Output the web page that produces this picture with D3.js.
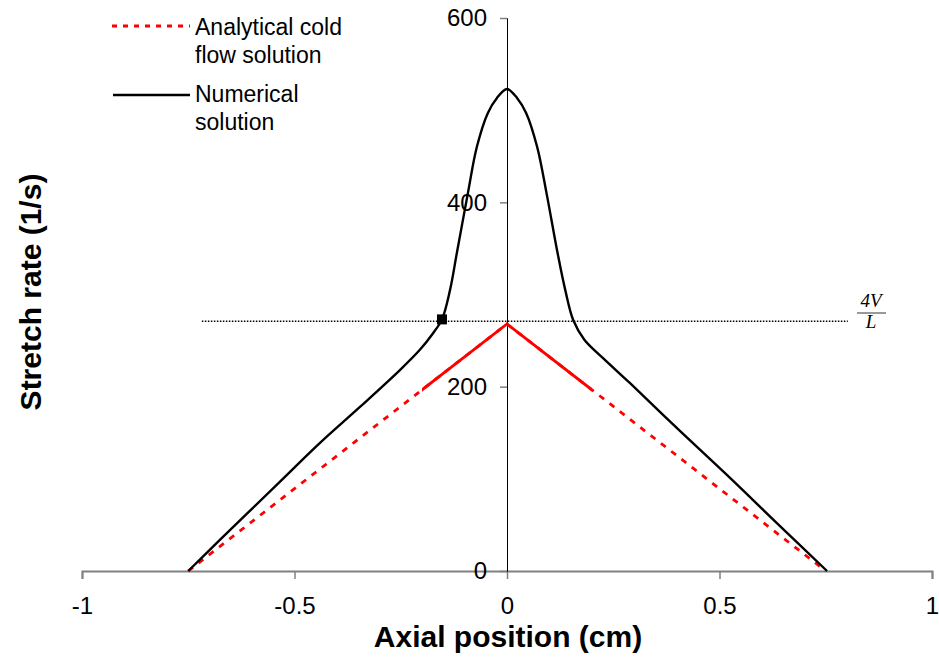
<!DOCTYPE html>
<html>
<head>
<meta charset="utf-8">
<script src="https://cdn.jsdelivr.net/npm/d3@7"></script>
<style>
  body { margin: 0; background: #fff; }
  text { font-family: Arial, "Liberation Sans", sans-serif; }
</style>
</head>
<body>
<div id="chart-area"></div>
<script>
// Numerical solution (black curve)
let numX = [-0.75, -0.675, -0.534, -0.44, -0.346, -0.252, -0.205, -0.174, -0.153, -0.134, -0.118,
  -0.092, -0.071, -0.045, -0.024, 0, 0.024, 0.045, 0.071, 0.093, 0.119, 0.137, 0.156, 0.182,
  0.226, 0.289, 0.4, 0.518, 0.635, 0.753];
let numY = [0, 34, 97, 139, 178, 218, 240, 258, 273, 305, 345,
  410, 460, 497, 513, 523, 513, 497, 460, 410, 345, 305, 272, 251,
  231, 204, 155, 104, 52, 0];

// Analytical cold flow solution (red dashed)
let anaX = [-0.75, 0, 0.75];
let anaY = [0, 268, 0];

// 4V/L reference line and marked point
let refX = [-0.718, 0.802];
let refY = 271;
let markX = -0.153, markY = 273;

let xTicks = [-1, -0.5, 0, 0.5, 1];
let yTicks = [0, 200, 400, 600];

let W = 939, H = 659;
let svg = d3.select('#chart-area').append('svg').attr('width', W).attr('height', H);

let x = d3.scaleLinear().domain([-1, 1]).range([82, 932]);
let y = d3.scaleLinear().domain([0, 600]).range([571, 18]);

// x axis
let xAxis = svg.append('g')
  .attr('transform', `translate(0, ${y(0)})`)
  .call(d3.axisBottom(x).tickValues(xTicks).tickSize(8).tickPadding(18)
    .tickFormat(d => String(d)));
xAxis.select('.domain').attr('stroke', '#808080').attr('stroke-width', 2);
xAxis.selectAll('.tick line').attr('stroke', '#808080').attr('stroke-width', 1.5);
xAxis.selectAll('.tick text').attr('font-size', 24).attr('fill', '#000');

// y axis at x = 0
let yAxis = svg.append('g')
  .attr('transform', `translate(${x(0)}, 0)`)
  .call(d3.axisLeft(y).tickValues(yTicks).tickSize(7).tickPadding(13));
yAxis.select('.domain').attr('stroke', '#000').attr('stroke-width', 1);
yAxis.selectAll('.tick line').attr('stroke', '#808080').attr('stroke-width', 1.5);
yAxis.selectAll('.tick text').attr('font-size', 24).attr('fill', '#000');

// Axis titles
svg.append('text')
  .attr('x', 508).attr('y', 647)
  .attr('text-anchor', 'middle')
  .attr('font-size', 30).attr('font-weight', 'bold')
  .text('Axial position (cm)');
svg.append('text')
  .attr('transform', 'translate(41, 292) rotate(-90)')
  .attr('text-anchor', 'middle')
  .attr('font-size', 30).attr('font-weight', 'bold')
  .text('Stretch rate (1/s)');

// 4V/L dotted line
svg.append('line')
  .attr('x1', x(refX[0])).attr('x2', x(refX[1]))
  .attr('y1', y(refY)).attr('y2', y(refY))
  .attr('stroke', '#000').attr('stroke-width', 1.5)
  .attr('stroke-dasharray', '1.5,1.5');

let fx = 871;
svg.append('text').attr('x', fx).attr('y', 307).attr('text-anchor', 'middle')
  .style('font-family', '"Liberation Serif", "Times New Roman", serif')
  .style('font-style', 'italic').attr('font-size', 19).text('4V');
svg.append('line').attr('x1', fx - 14).attr('x2', fx + 15).attr('y1', 313).attr('y2', 313)
  .attr('stroke', '#555').attr('stroke-width', 1.2);
svg.append('text').attr('x', fx).attr('y', 328).attr('text-anchor', 'middle')
  .style('font-family', '"Liberation Serif", "Times New Roman", serif')
  .style('font-style', 'italic').attr('font-size', 19).text('L');

// Analytical line
let anaData = anaX.map((d, i) => ({ x: d, y: anaY[i] }));
let anaLine = d3.line().x(d => x(d.x)).y(d => y(d.y));

svg.append('defs').append('clipPath').attr('id', 'center-clip')
  .append('rect')
  .attr('x', x(-0.2)).attr('width', x(0.2) - x(-0.2))
  .attr('y', 0).attr('height', H);

svg.append('path')
  .datum(anaData)
  .attr('d', anaLine)
  .attr('fill', 'none')
  .attr('stroke', '#ff0000').attr('stroke-width', 2.8)
  .attr('stroke-dasharray', '6,7');
svg.append('path')
  .datum(anaData)
  .attr('d', anaLine)
  .attr('clip-path', 'url(#center-clip)')
  .attr('fill', 'none')
  .attr('stroke', '#ff0000').attr('stroke-width', 2.8);

// Numerical line
let numData = numX.map((d, i) => ({ x: d, y: numY[i] }));
svg.append('path')
  .datum(numData)
  .attr('d', d3.line().x(d => x(d.x)).y(d => y(d.y)).curve(d3.curveCatmullRom.alpha(0.5)))
  .attr('fill', 'none')
  .attr('stroke', '#000').attr('stroke-width', 2.4);

// Marker
svg.append('rect')
  .attr('x', x(markX) - 5).attr('y', y(markY) - 5)
  .attr('width', 10).attr('height', 10)
  .attr('fill', '#000');

// Legend
let legend = svg.append('g');
legend.append('line').attr('x1', 112).attr('x2', 190).attr('y1', 26).attr('y2', 26)
  .attr('stroke', '#ff0000').attr('stroke-width', 3).attr('stroke-dasharray', '5,6');
legend.append('text').attr('x', 195).attr('y', 35).attr('font-size', 23).text('Analytical cold');
legend.append('text').attr('x', 195).attr('y', 63).attr('font-size', 23).text('flow solution');
legend.append('line').attr('x1', 113).attr('x2', 190).attr('y1', 95).attr('y2', 95)
  .attr('stroke', '#000').attr('stroke-width', 2.5);
legend.append('text').attr('x', 195).attr('y', 102).attr('font-size', 23).text('Numerical');
legend.append('text').attr('x', 195).attr('y', 130).attr('font-size', 23).text('solution');
</script>
</body>
</html>
